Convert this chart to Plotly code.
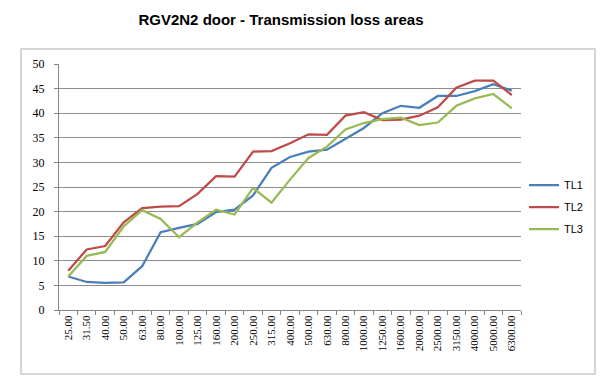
import plotly.graph_objects as go

categories = ["25.00", "31.50", "40.00", "50.00", "63.00", "80.00", "100.00", "125.00",
              "160.00", "200.00", "250.00", "315.00", "400.00", "500.00", "630.00", "800.00",
              "1000.00", "1250.00", "1600.00", "2000.00", "2500.00", "3150.00", "4000.00",
              "5000.00", "6300.00"]

tl1 = [6.8, 5.7, 5.5, 5.6, 8.9, 15.8, 16.7, 17.5, 19.9, 20.4, 23.3, 28.9, 31.1, 32.2,
       32.6, 34.8, 37.0, 40.0, 41.5, 41.1, 43.5, 43.5, 44.5, 45.9, 44.6]
tl2 = [8.0, 12.3, 13.0, 17.8, 20.7, 21.0, 21.1, 23.6, 27.2, 27.1, 32.2, 32.3, 33.9, 35.7,
       35.6, 39.5, 40.2, 38.6, 38.7, 39.5, 41.2, 45.2, 46.6, 46.6, 43.7]
tl3 = [6.8, 11.0, 11.8, 17.0, 20.3, 18.5, 14.8, 17.8, 20.4, 19.4, 24.8, 21.8, 26.5, 30.9,
       33.2, 36.7, 38.0, 38.8, 39.1, 37.6, 38.1, 41.5, 43.0, 43.9, 41.0]

series = [("TL1", tl1, "#4A7EBB"), ("TL2", tl2, "#BE4B48"), ("TL3", tl3, "#98B954")]
yticks = [0, 5, 10, 15, 20, 25, 30, 35, 40, 45, 50]

fig = go.Figure()
for name, vals, color in series:
    fig.add_trace(go.Scatter(x=categories, y=vals, name=name, mode="lines",
                             legendgroup=name,
                             line=dict(color=color, width=2.25)))

L, R, T, B = 51, 91, 56, 83
pw = 604 - L - R
ph = 385 - T - B

def px_x(x):
    return (x - L) / pw

def px_y(y):
    return (385 - B - y) / ph

fig.update_layout(
    width=604, height=385,
    margin=dict(l=L, r=R, t=T, b=B),
    paper_bgcolor="white", plot_bgcolor="white",
    title=dict(text="<b>RGV2N2 door - Transmission loss areas</b>",
               x=273 / 604, xanchor="center", y=1 - 12 / 385, yanchor="middle",
               font=dict(family="Liberation Sans, Arial", size=15, color="#000000")),
    showlegend=True,
    legend=dict(x=px_x(516), y=px_y(199), xanchor="left", yanchor="middle",
                font=dict(family="Liberation Sans, Arial", size=11, color="#000000"),
                traceorder="grouped", tracegroupgap=3,
                bgcolor="rgba(0,0,0,0)", itemwidth=30),
    xaxis=dict(type="category", categoryorder="array", categoryarray=categories,
               range=[-0.5, len(categories) - 0.5],
               tickangle=-90, tickson="boundaries", ticks="outside", ticklen=4,
               tickcolor="#868686", showline=True, linecolor="#868686", linewidth=1,
               showgrid=False,
               tickfont=dict(family="Liberation Serif, Times New Roman", size=11, color="#000000")),
    yaxis=dict(range=[0, 50], tickvals=yticks, ticktext=[str(v) for v in yticks],
               ticks="outside", ticklen=4, tickcolor="#868686", ticklabelstandoff=7,
               showline=True, linecolor="#868686", linewidth=1,
               showgrid=True, gridcolor="#8C8C8C", gridwidth=1, zeroline=False,
               tickfont=dict(family="Liberation Serif, Times New Roman", size=12, color="#000000")),
    shapes=[dict(type="rect", xref="paper", yref="paper",
                 x0=px_x(13), x1=px_x(587), y0=px_y(366), y1=px_y(41),
                 line=dict(color="#C8C8C8", width=1.5), fillcolor="rgba(0,0,0,0)", layer="below")],
)

fig.write_html("out.html")
